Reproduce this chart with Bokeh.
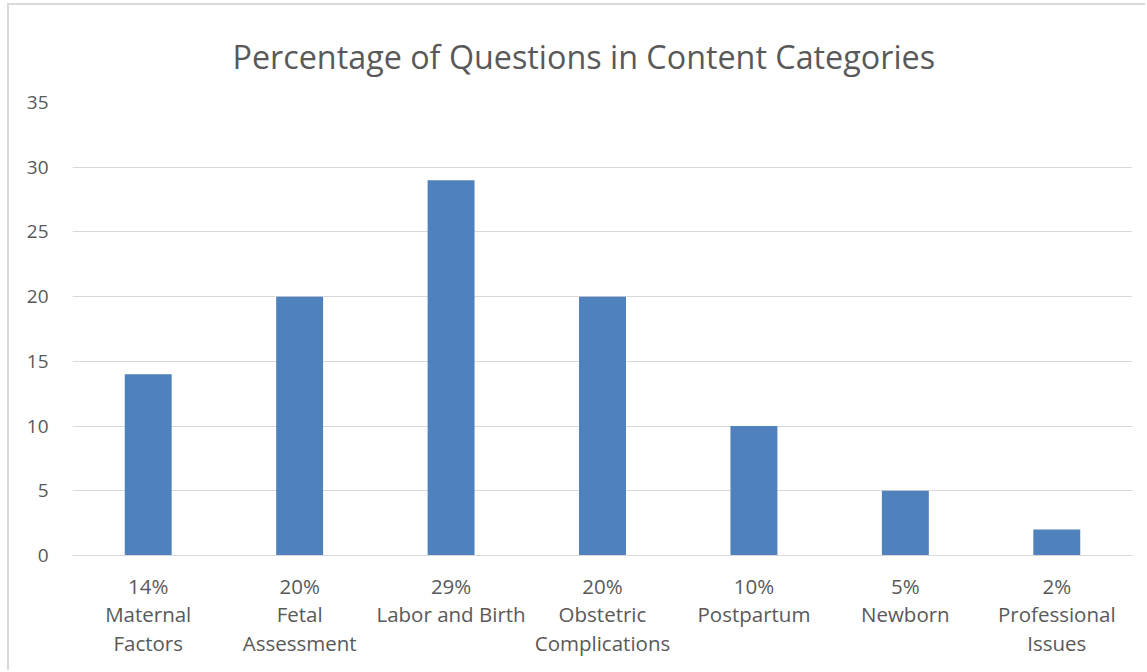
from bokeh.plotting import figure
from bokeh.models import ColumnDataSource, FactorRange
from bokeh.embed import file_html
from bokeh.resources import INLINE

categories = ["14%\nMaternal\nFactors", "20%\nFetal\nAssessment", "29%\nLabor and Birth",
              "20%\nObstetric\nComplications", "10%\nPostpartum", "5%\nNewborn",
              "2%\nProfessional\nIssues"]
values = [14, 20, 29, 20, 10, 5, 2]
y_ticks = [0, 5, 10, 15, 20, 25, 30, 35]
title_text = "Percentage of Questions in Content Categories"

FONT = "Open Sans"
GRAY = "#595959"

src = ColumnDataSource(dict(cat=categories, val=values))

p = figure(x_range=FactorRange(*categories), y_range=(0, 35),
           width=1138, height=667, output_backend="svg", toolbar_location=None,
           title=title_text, min_border_left=63, min_border_right=15,
           min_border_top=97, min_border_bottom=117)
p.margin = (3, 0, 0, 7)
p.styles = {"border-left": "2px solid #D9D9D9", "border-top": "2px solid #D9D9D9"}
p.vbar(x="cat", top="val", width=0.31, source=src, color="#4F81BD", line_color=None)

p.title.align = "left"
p.title.offset = 160
p.title.text_font = FONT
p.title.text_font_size = "32.3px"
p.title.text_font_style = "normal"
p.title.text_color = GRAY
p.title.standoff = 49

p.outline_line_color = None
p.border_fill_color = "white"
p.background_fill_color = "white"

p.xgrid.grid_line_color = None
p.ygrid.grid_line_color = "#D9D9D9"
p.ygrid.grid_line_width = 1

p.yaxis.ticker = y_ticks
p.yaxis.axis_line_color = None
p.yaxis.major_tick_line_color = None
p.yaxis.minor_tick_line_color = None
p.yaxis.major_label_text_font = FONT
p.yaxis.major_label_text_font_size = "19px"
p.yaxis.major_label_text_color = GRAY
p.yaxis.major_label_standoff = 18

p.xaxis.axis_line_color = "#D9D9D9"
p.xaxis.major_tick_line_color = None
p.xaxis.minor_tick_line_color = None
p.xaxis.major_label_text_font = FONT
p.xaxis.major_label_text_font_size = "20.5px"
p.xaxis.major_label_text_line_height = 1.03
p.xaxis.major_label_text_color = GRAY
p.xaxis.major_label_standoff = 10

open("out.html", "w").write(file_html(p, INLINE))
